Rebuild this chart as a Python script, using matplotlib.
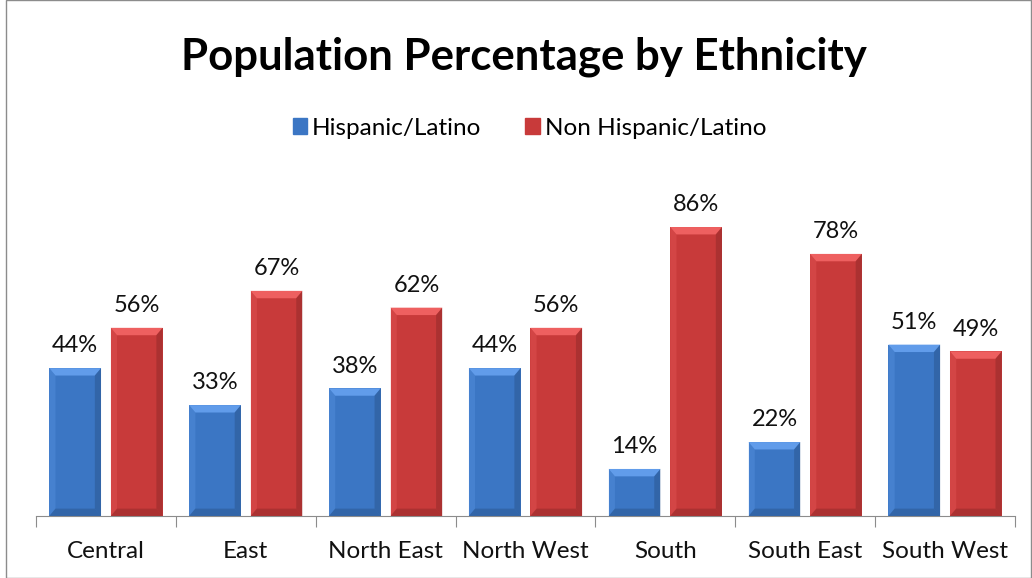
import matplotlib.pyplot as plt
from matplotlib.patches import Polygon, Rectangle
import numpy as np

regions = ['Central', 'East', 'North East', 'North West', 'South', 'South East', 'South West']
hispanic = [44, 33, 38, 44, 14, 22, 51]
non_hispanic = [56, 67, 62, 56, 86, 78, 49]

blue = '#3b76c4'
red = '#c83a3a'

plt.rcParams['font.family'] = ['Lato', 'DejaVu Sans']

fig = plt.figure(figsize=(10.32, 5.78), dpi=100)
ax = fig.add_axes([36 / 1032, 1 - 516 / 578, 979 / 1032, 336 / 578])

x = np.arange(len(regions))
width = 0.37
offset = 0.22


def bevel_bar(ax, xc, h, color):
    # plain bar plus lighter top edge and darker right/bottom edges
    rect = ax.bar(xc, h, width, color=color, edgecolor='none', zorder=2)[0]
    x0, w = rect.get_x(), rect.get_width()
    bx = w * 0.12
    by = 2.2
    base = np.array(plt.matplotlib.colors.to_rgb(color))
    light = np.clip(base + 0.15, 0, 1)
    dark = base * 0.72
    ax.add_patch(Polygon([(x0, h), (x0 + w, h), (x0 + w - bx, h - by), (x0 + bx, h - by)],
                         closed=True, color=light, lw=0, zorder=3))
    ax.add_patch(Polygon([(x0 + w, h), (x0 + w, 0), (x0 + w - bx, by), (x0 + w - bx, h - by)],
                         closed=True, color=dark, lw=0, alpha=0.5, zorder=3))
    ax.add_patch(Polygon([(x0, h), (x0, 0), (x0 + bx, by), (x0 + bx, h - by)],
                         closed=True, color=light, lw=0, alpha=0.3, zorder=3))
    ax.add_patch(Polygon([(x0, 0), (x0 + w, 0), (x0 + w - bx, by), (x0 + bx, by)],
                         closed=True, color=dark, lw=0, alpha=0.5, zorder=3))
    ax.text(xc, h + 3.5, f'{h}%', ha='center', va='bottom', fontsize=17, color='#111111', clip_on=False)


for i in range(len(regions)):
    bevel_bar(ax, x[i] - offset, hispanic[i], blue)
    bevel_bar(ax, x[i] + offset, non_hispanic[i], red)

ax.set_xlim(-0.5, len(regions) - 0.5)
ax.set_ylim(0, 100)
ax.set_yticks([])
for s in ['top', 'left', 'right']:
    ax.spines[s].set_visible(False)
ax.spines['bottom'].set_color('#8c8c8c')
ax.set_xticks(np.arange(len(regions) + 1) - 0.5, minor=False)
ax.set_xticklabels([])
ax.tick_params(axis='x', length=8, color='#8c8c8c', direction='out')
for i, r in enumerate(regions):
    ax.text(i, -7.3, r, ha='center', va='top', fontsize=17.5, color='#111111', clip_on=False)

fig.text(0.508, 1 - 57 / 578, 'Population Percentage by Ethnicity', ha='center', va='center',
         fontsize=31.5, fontweight='bold', color='black')

handles = [Rectangle((0, 0), 1, 1, color=blue), Rectangle((0, 0), 1, 1, color=red)]
fig.legend(handles, ['Hispanic/Latino', 'Non Hispanic/Latino'], loc='center',
           bbox_to_anchor=(0.513, 1 - 128 / 578), ncol=2, frameon=False, fontsize=17.5,
           handlelength=0.6, handleheight=0.6, handletextpad=0.2, columnspacing=1.8)

fig.patches.append(Rectangle((6 / 1032, 0), 1 - 7 / 1032, 1, transform=fig.transFigure,
                             fill=False, edgecolor='#8c8c8c', lw=1))

fig.savefig('out.png', dpi=100)
